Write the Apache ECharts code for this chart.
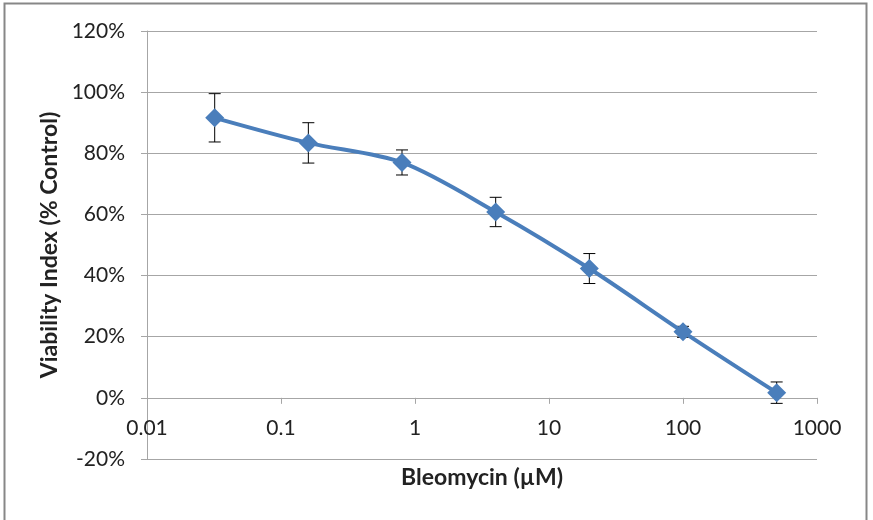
<!DOCTYPE html>
<html>
<head>
<meta charset="utf-8">
<script src="https://cdn.jsdelivr.net/npm/echarts@6/dist/echarts.min.js"></script>
<style>
html,body{margin:0;padding:0;background:#fff;}
#chart{width:873px;height:520px;}
</style>
</head>
<body>
<div id="chart"></div>
<script>
// Data
const concentrations = [0.032, 0.16, 0.8, 4, 20, 100, 500];   // Bleomycin (µM)
const viability      = [91.6, 83.4, 77.0, 60.8, 42.3, 21.6, 1.7]; // % control
const errors         = [7.9, 6.6, 4.1, 4.8, 4.9, 1.8, 3.5];     // ± error
const xTickValues    = [0.01, 0.1, 1, 10, 100, 1000];
const xTickLabels    = ['0.01', '0.1', '1', '10', '100', '1000'];
const yTickLabels    = ['-20%', '0%', '20%', '40%', '60%', '80%', '100%', '120%'];
const xAxisTitle = 'Bleomycin (µM)';
const yAxisTitle = 'Viability Index (% Control)';
const yMin = -20, yMax = 120, yStep = 20;

const lineData = concentrations.map((c, i) => [c, viability[i]]);
const errData  = concentrations.map((c, i) => [c, viability[i], errors[i]]);

const chart = echarts.init(document.getElementById('chart'), null, {renderer: 'canvas'});
const FONT = 'Lato';
const grey = '#a6a6a6';
const gridTop = 31, gridBottom = 61;
const plotH = 520 - gridTop - gridBottom;
// x axis crosses the y axis at 0: shift it up from the bottom by the -20..0 span
const xAxisShift = plotH * (0 - yMin) / (yMax - yMin);

chart.setOption({
  animation: false,
  backgroundColor: '#fff',
  grid: {left: 147, right: 56, top: gridTop, bottom: gridBottom, containLabel: false, outerBoundsMode: 'none'},
  xAxis: {
    type: 'log', logBase: 10, min: 0.01, max: 1000,
    position: 'bottom', offset: -xAxisShift,
    name: xAxisTitle, nameLocation: 'middle', nameGap: 68,
    nameTextStyle: {fontFamily: FONT, fontWeight: 'bold', fontSize: 23, color: '#222'},
    axisLine: {show: true, onZero: false, lineStyle: {color: grey, width: 1}},
    axisTick: {show: true, length: 6, lineStyle: {color: grey}},
    splitLine: {show: false},
    minorTick: {show: false},
    axisLabel: {
      margin: 20, fontFamily: FONT, fontSize: 21, color: '#222',
      formatter: function (v) {
        const idx = xTickValues.findIndex(t => Math.abs(Math.log10(t) - Math.log10(v)) < 1e-6);
        return idx >= 0 ? xTickLabels[idx] : '';
      }
    }
  },
  yAxis: {
    type: 'value', min: yMin, max: yMax, interval: yStep,
    name: yAxisTitle, nameLocation: 'middle', nameGap: 84, nameRotate: 90,
    nameTextStyle: {fontFamily: FONT, fontWeight: 'bold', fontSize: 23, color: '#222'},
    axisLine: {show: true, onZero: false, lineStyle: {color: grey, width: 1}},
    axisTick: {show: true, length: 6, lineStyle: {color: grey}},
    splitLine: {show: true, lineStyle: {color: grey, width: 1}},
    axisLabel: {
      margin: 22, fontFamily: FONT, fontSize: 21, color: '#222',
      formatter: function (v) {
        const idx = Math.round((v - yMin) / yStep);
        return yTickLabels[idx] !== undefined ? yTickLabels[idx] : '';
      }
    }
  },
  graphic: [{
    type: 'rect', silent: true, z: -1,
    shape: {x: 4.5, y: 3.5, width: 862, height: 530},
    style: {fill: 'none', stroke: '#878787', lineWidth: 2}
  }],
  series: [
    {
      type: 'custom', name: 'error', z: 2,
      data: errData,
      renderItem: function (params, api) {
        const x = api.value(0), y = api.value(1), e = api.value(2);
        const top = api.coord([x, y + e]);
        const bot = api.coord([x, y - e]);
        const hw = 6;
        const style = {stroke: '#000', lineWidth: 1, fill: 'none'};
        return {
          type: 'group',
          children: [
            {type: 'line', shape: {x1: top[0], y1: top[1], x2: bot[0], y2: bot[1]}, style: style},
            {type: 'line', shape: {x1: top[0] - hw, y1: top[1], x2: top[0] + hw, y2: top[1]}, style: style},
            {type: 'line', shape: {x1: bot[0] - hw, y1: bot[1], x2: bot[0] + hw, y2: bot[1]}, style: style}
          ]
        };
      }
    },
    {
      type: 'line', name: 'Viability', z: 3,
      data: lineData,
      smooth: 0.3,
      symbol: 'diamond', symbolSize: 19,
      lineStyle: {color: '#4a7ebb', width: 4},
      itemStyle: {color: '#4a7ebb'}
    }
  ]
});
</script>
</body>
</html>
